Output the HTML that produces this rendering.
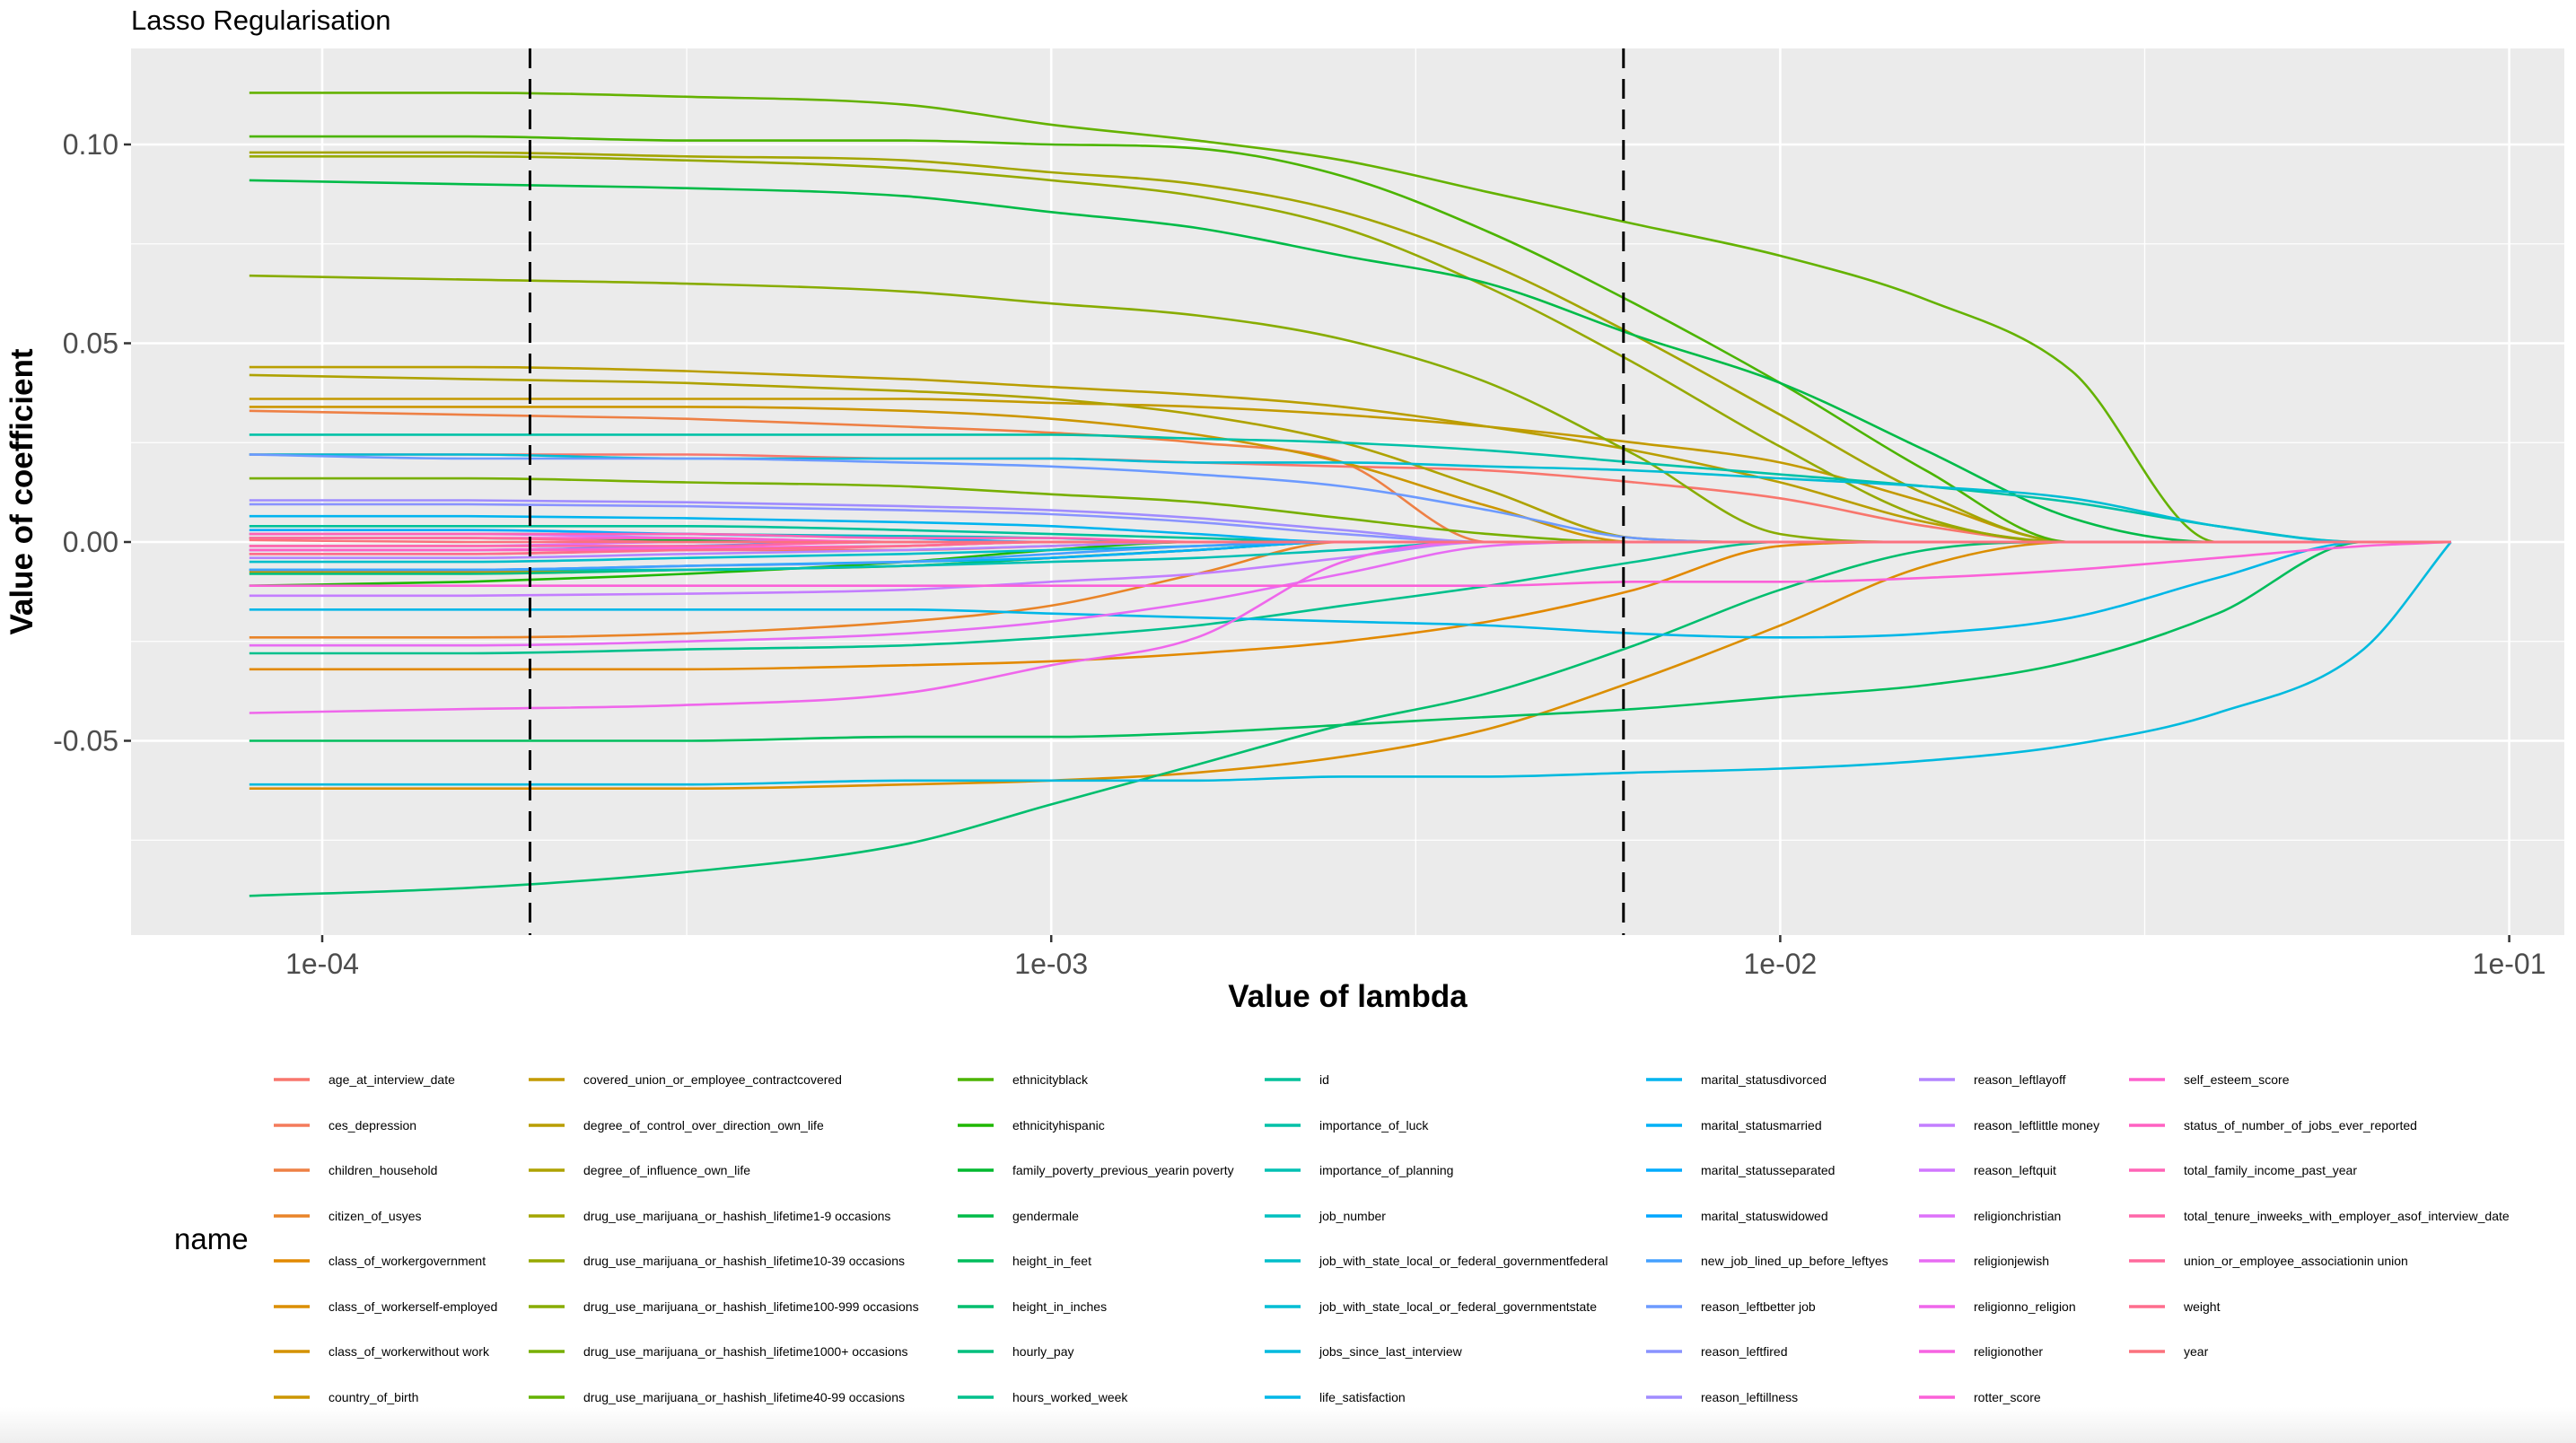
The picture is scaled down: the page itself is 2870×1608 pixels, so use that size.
<!DOCTYPE html>
<html><head><meta charset="utf-8">
<style>
html,body{margin:0;padding:0;background:#fff;}
body{width:2870px;height:1608px;position:relative;overflow:hidden;font-family:"Liberation Sans",Arial,sans-serif;}
#bottomfade{position:absolute;left:0;top:1568px;width:2870px;height:40px;background:linear-gradient(#ffffff,#eeeeee);}
</style></head>
<body>
<div id="bottomfade"></div>
<svg id="chart" width="2870" height="1608" style="position:absolute;left:0;top:0" xmlns="http://www.w3.org/2000/svg"></svg>
<script>
// grid of log10(lambda)
const logLambda = [-4.1,-3.8,-3.5,-3.2,-3.0,-2.8,-2.6,-2.4,-2.2,-2.0,-1.8,-1.6,-1.4,-1.2,-1.08];
const seriesNames = ["age_at_interview_date","ces_depression","children_household","citizen_of_usyes","class_of_workergovernment","class_of_workerself-employed","class_of_workerwithout work","country_of_birth","covered_union_or_employee_contractcovered","degree_of_control_over_direction_own_life","degree_of_influence_own_life","drug_use_marijuana_or_hashish_lifetime1-9 occasions","drug_use_marijuana_or_hashish_lifetime10-39 occasions","drug_use_marijuana_or_hashish_lifetime100-999 occasions","drug_use_marijuana_or_hashish_lifetime1000+ occasions","drug_use_marijuana_or_hashish_lifetime40-99 occasions","ethnicityblack","ethnicityhispanic","family_poverty_previous_yearin poverty","gendermale","height_in_feet","height_in_inches","hourly_pay","hours_worked_week","id","importance_of_luck","importance_of_planning","job_number","job_with_state_local_or_federal_governmentfederal","job_with_state_local_or_federal_governmentstate","jobs_since_last_interview","life_satisfaction","marital_statusdivorced","marital_statusmarried","marital_statusseparated","marital_statuswidowed","new_job_lined_up_before_leftyes","reason_leftbetter job","reason_leftfired","reason_leftillness","reason_leftlayoff","reason_leftlittle money","reason_leftquit","religionchristian","religionjewish","religionno_religion","religionother","rotter_score","self_esteem_score","status_of_number_of_jobs_ever_reported","total_family_income_past_year","total_tenure_inweeks_with_employer_asof_interview_date","union_or_employee_associationin union","weight","year"];
const coefs = [
[.022,.022,.022,.021,.021,.020,.019,.018,.015,.011,.004,0,0,0,0],
[-.003,-.003,-.002,-.002,-.001,0,0,0,0,0,0,0,0,0,0],
[.033,.032,.031,.029,.0275,.025,.020,0,0,0,0,0,0,0,0],
[-.024,-.024,-.023,-.020,-.016,-.008,0,0,0,0,0,0,0,0,0],
[-.032,-.032,-.032,-.031,-.030,-.028,-.025,-.020,-.012,-.001,0,0,0,0,0],
[-.062,-.062,-.062,-.061,-.060,-.058,-.054,-.047,-.035,-.021,-.006,0,0,0,0],
[-.0075,-.0075,-.007,-.006,-.004,-.002,0,0,0,0,0,0,0,0,0],
[.034,.034,.034,.033,.031,.027,.020,.009,0,0,0,0,0,0,0],
[.036,.036,.036,.036,.035,.034,.032,.029,.025,.020,.010,0,0,0,0],
[.044,.044,.043,.041,.039,.037,.034,.029,.023,.015,.005,0,0,0,0],
[.042,.041,.040,.038,.036,.032,.025,.013,.001,0,0,0,0,0,0],
[.098,.098,.097,.096,.093,.090,.083,.070,.052,.032,.012,0,0,0,0],
[.097,.097,.096,.094,.091,.087,.079,.064,.045,.024,.006,0,0,0,0],
[.067,.066,.065,.063,.060,.057,.051,.040,.022,.002,0,0,0,0,0],
[.016,.016,.015,.014,.012,.010,.006,.002,0,0,0,0,0,0,0],
[.113,.113,.112,.110,.105,.101,.096,.088,.080,.072,.061,.043,0,0,0],
[.102,.102,.101,.101,.100,.099,.092,.078,.060,.040,.018,0,0,0,0],
[-.011,-.010,-.008,-.005,-.002,0,0,0,0,0,0,0,0,0,0],
[.001,.001,.0005,0,0,0,0,0,0,0,0,0,0,0,0],
[.091,.090,.089,.087,.083,.079,.072,.065,.052,.040,.023,.006,0,0,0],
[-.050,-.050,-.050,-.049,-.049,-.048,-.046,-.044,-.042,-.039,-.036,-.030,-.018,0,0],
[-.089,-.087,-.083,-.076,-.066,-.056,-.046,-.038,-.026,-.012,-.002,0,0,0,0],
[-.008,-.008,-.007,-.006,-.004,-.002,0,0,0,0,0,0,0,0,0],
[-.028,-.028,-.027,-.026,-.024,-.021,-.016,-.011,-.005,0,0,0,0,0,0],
[.004,.004,.004,.003,.002,.001,0,0,0,0,0,0,0,0,0],
[.027,.027,.027,.027,.027,.026,.025,.023,.020,.017,.014,.010,.004,0,0],
[-.007,-.007,-.007,-.006,-.005,-.004,-.002,0,0,0,0,0,0,0,0],
[.002,.002,.002,.0015,.001,0,0,0,0,0,0,0,0,0,0],
[-.005,-.005,-.004,-.003,-.002,-.001,0,0,0,0,0,0,0,0,0],
[.022,.022,.021,.021,.021,.020,.020,.019,.018,.016,.014,.011,.004,0,0],
[-.061,-.061,-.061,-.060,-.060,-.060,-.059,-.059,-.058,-.057,-.055,-.051,-.043,-.027,0],
[-.017,-.017,-.017,-.017,-.018,-.019,-.020,-.021,-.023,-.024,-.023,-.019,-.009,0,0],
[.0065,.0065,.006,.005,.004,.002,0,0,0,0,0,0,0,0,0],
[-.007,-.007,-.006,-.005,-.004,-.002,0,0,0,0,0,0,0,0,0],
[.003,.003,.002,.001,0,0,0,0,0,0,0,0,0,0,0],
[-.002,-.002,-.001,0,0,0,0,0,0,0,0,0,0,0,0],
[-.007,-.007,-.006,-.005,-.003,-.001,0,0,0,0,0,0,0,0,0],
[.022,.021,.021,.020,.019,.017,.014,.008,.001,0,0,0,0,0,0],
[.0095,.0095,.009,.008,.007,.005,.002,0,0,0,0,0,0,0,0],
[.0105,.0105,.010,.009,.008,.006,.003,0,0,0,0,0,0,0,0],
[-.004,-.004,-.003,-.002,-.001,0,0,0,0,0,0,0,0,0,0],
[-.0135,-.0135,-.013,-.012,-.010,-.008,-.004,0,0,0,0,0,0,0,0],
[.002,.002,.001,0,0,0,0,0,0,0,0,0,0,0,0],
[-.001,-.001,0,0,0,0,0,0,0,0,0,0,0,0,0],
[-.026,-.026,-.025,-.023,-.020,-.015,-.008,-.001,0,0,0,0,0,0,0],
[-.043,-.042,-.041,-.038,-.031,-.024,-.005,0,0,0,0,0,0,0,0],
[-.002,-.002,-.0015,-.001,0,0,0,0,0,0,0,0,0,0,0],
[-.011,-.011,-.011,-.011,-.011,-.011,-.011,-.011,-.010,-.010,-.009,-.007,-.004,-.001,0],
[.001,.001,.001,0,0,0,0,0,0,0,0,0,0,0,0],
[-.002,-.002,-.002,-.001,0,0,0,0,0,0,0,0,0,0,0],
[.002,.002,.002,.001,.001,0,0,0,0,0,0,0,0,0,0],
[-.001,-.001,-.001,0,0,0,0,0,0,0,0,0,0,0,0],
[.001,.001,0,0,0,0,0,0,0,0,0,0,0,0,0],
[-.003,-.003,-.002,-.001,0,0,0,0,0,0,0,0,0,0,0],
[.0005,0,0,0,0,0,0,0,0,0,0,0,0,0,0]
];
const xTickLogs = [-4,-3,-2,-1];
const xTickLabels = ["1e-04","1e-03","1e-02","1e-01"];
const xMinorLogs = [-3.5,-2.5,-1.5];
const yTicks = [0.10,0.05,0.00,-0.05];
const yTickLabels = ["0.10","0.05","0.00","-0.05"];
const yMinor = [0.075,0.025,-0.025,-0.075];
const cutoffLogs = [-3.715,-2.215];

const NS="http://www.w3.org/2000/svg";
const svg=document.getElementById('chart');
const P={l:146,r:2857,t:54,b:1042};
function xs(L){return 359+(L+4)*812.2;}
function ys(v){return 604-v*4430;}
function el(tag,attrs,parent){const e=document.createElementNS(NS,tag);for(const k in attrs)e.setAttribute(k,attrs[k]);(parent||svg).appendChild(e);return e;}
function monotonePath(px,py){
  const n=px.length,d=[],m=new Array(n);
  for(let i=0;i<n-1;i++)d.push((py[i+1]-py[i])/(px[i+1]-px[i]));
  m[0]=d[0];m[n-1]=d[n-2];
  for(let i=1;i<n-1;i++){m[i]=(d[i-1]*d[i]<=0)?0:(d[i-1]+d[i])/2;}
  for(let i=0;i<n-1;i++){
    if(d[i]===0){m[i]=0;m[i+1]=0;continue;}
    const a=m[i]/d[i],b=m[i+1]/d[i],s=a*a+b*b;
    if(s>9){const t=3/Math.sqrt(s);m[i]=t*a*d[i];m[i+1]=t*b*d[i];}
  }
  let s='M'+px[0].toFixed(1)+','+py[0].toFixed(1);
  for(let i=0;i<n-1;i++){
    const h=(px[i+1]-px[i])/3;
    s+='C'+(px[i]+h).toFixed(1)+','+(py[i]+m[i]*h).toFixed(1)+' '+(px[i+1]-h).toFixed(1)+','+(py[i+1]-m[i+1]*h).toFixed(1)+' '+px[i+1].toFixed(1)+','+py[i+1].toFixed(1);
  }
  return s;
}
function hcl(h){
  const L=65,C=100,hr=h*Math.PI/180;const u=C*Math.cos(hr),v=C*Math.sin(hr);
  const Xn=95.047,Yn=100,Zn=108.883;const d=Xn+15*Yn+3*Zn;const un=4*Xn/d,vn=9*Yn/d;
  const Y=Yn*Math.pow((L+16)/116,3);const up=u/(13*L)+un,vp=v/(13*L)+vn;
  const X=Y*9*up/(4*vp),Z=Y*(12-3*up-20*vp)/(4*vp);
  const x=X/100,y=Y/100,z=Z/100;
  let r=3.2404542*x-1.5371385*y-0.4985314*z,g=-0.9692660*x+1.8760108*y+0.0415560*z,b=0.0556434*x-0.2040259*y+1.0572252*z;
  const f=c=>{c=c<=0.0031308?12.92*c:1.055*Math.pow(c,1/2.4)-0.055;return Math.round(Math.max(0,Math.min(1,c))*255);};
  return `rgb(${f(r)},${f(g)},${f(b)})`;
}
const n=seriesNames.length;
const colors=seriesNames.map((s,i)=>hcl(15+360*i/n));

const title=el('text',{x:146,y:33,'font-size':31,fill:'#000'});title.textContent='Lasso Regularisation';


const panel=el('rect',{x:P.l,y:P.t,width:P.r-P.l,height:P.b-P.t,fill:'#ebebeb'});


const grid=el('g',{});


yMinor.forEach(v=>el('line',{x1:P.l,x2:P.r,y1:ys(v),y2:ys(v),stroke:'#fff','stroke-width':1.3},grid));
xMinorLogs.forEach(L=>el('line',{x1:xs(L),x2:xs(L),y1:P.t,y2:P.b,stroke:'#fff','stroke-width':1.3},grid));
yTicks.forEach(v=>el('line',{x1:P.l,x2:P.r,y1:ys(v),y2:ys(v),stroke:'#fff','stroke-width':2.6},grid));
xTickLogs.forEach(L=>el('line',{x1:xs(L),x2:xs(L),y1:P.t,y2:P.b,stroke:'#fff','stroke-width':2.6},grid));
const lines=el('g',{fill:'none','stroke-width':2.6,'stroke-linejoin':'round'});


coefs.forEach((arr,i)=>{
  const px=arr.map((v,j)=>xs(logLambda[j])),py=arr.map(v=>ys(v));
  const p=el('path',{d:monotonePath(px,py),stroke:colors[i]},lines);
  
  
});
cutoffLogs.forEach((L,k)=>{
  const c=el('line',{x1:xs(L),x2:xs(L),y1:P.t,y2:P.b,stroke:'#000','stroke-width':3,'stroke-dasharray':'22,12'});
  
  
});
yTicks.forEach((v,i)=>{
  el('line',{x1:P.l-8,x2:P.l,y1:ys(v),y2:ys(v),stroke:'#333','stroke-width':2.5});
  const t=el('text',{x:P.l-14,y:ys(v)+11,'text-anchor':'end','font-size':32,fill:'#4d4d4d'});t.textContent=yTickLabels[i];
  
  
});
xTickLogs.forEach((L,i)=>{
  el('line',{x1:xs(L),x2:xs(L),y1:P.b,y2:P.b+8,stroke:'#333','stroke-width':2.5});
  const t=el('text',{x:xs(L),y:P.b+43,'text-anchor':'middle','font-size':32,fill:'#4d4d4d'});t.textContent=xTickLabels[i];
  
  
});
const xt=el('text',{x:(P.l+P.r)/2,y:1122,'text-anchor':'middle','font-size':35,'font-weight':'bold',fill:'#000'});xt.textContent='Value of lambda';


const yt=el('text',{x:0,y:0,transform:`translate(36,${(P.t+P.b)/2}) rotate(-90)`,'text-anchor':'middle','font-size':35,'font-weight':'bold',fill:'#000'});yt.textContent='Value of coefficient';


const leg=el('g',{});


const lt=el('text',{x:194,y:1392,'font-size':33,fill:'#000'},leg);lt.textContent='name';


const colKeyX=[305,589,1067,1409,1834,2138,2372];
const rowY=[1203,1254,1304,1355,1405,1456,1506,1557];
seriesNames.forEach((s,i)=>{
  const c=Math.floor(i/8),r=i%8;
  const g=el('g',{},leg);
  
  
  el('line',{x1:colKeyX[c],x2:colKeyX[c]+40,y1:rowY[r],y2:rowY[r],stroke:colors[i],'stroke-width':3.5},g);
  const t=el('text',{x:colKeyX[c]+61,y:rowY[r]+5,'font-size':14,fill:'#000'},g);t.textContent=s;
});
</script>
</body></html>
